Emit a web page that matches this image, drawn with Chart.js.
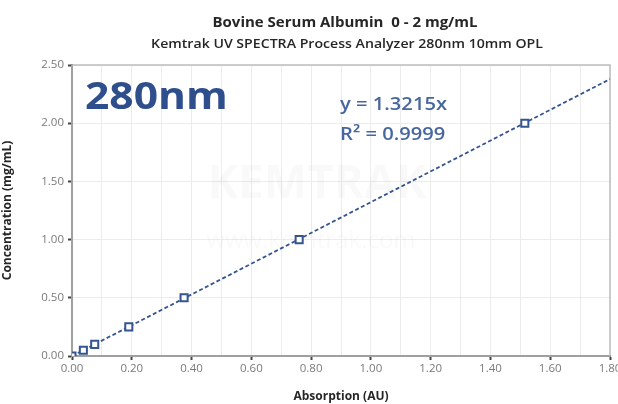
<!DOCTYPE html>
<html>
<head>
<meta charset="utf-8">
<script src="https://cdn.jsdelivr.net/npm/chart.js@4"></script>
<style>
  html, body { margin: 0; padding: 0; background: #fff; }
  #wrap { width: 618px; height: 404px; }
</style>
</head>
<body>
<div id="wrap"><canvas id="bsaChart" width="618" height="404"></canvas></div>
<script>
// measured standards: absorbance (AU) vs concentration (mg/mL)
const absorbance = [0.00, 0.038, 0.076, 0.19, 0.375, 0.76, 1.515];
const concentration = [0.00, 0.05, 0.10, 0.25, 0.50, 1.00, 2.00];

// trendline end points as drawn (y = 1.3215x)
const trendX = [0.00, 1.80];
const trendY = [0.00, 2.379];

const titleText = "Bovine Serum Albumin  0 - 2 mg/mL";
const subtitleText = "Kemtrak UV SPECTRA Process Analyzer 280nm 10mm OPL";
const equationText = "y = 1.3215x";
const rsqText = "R\u00B2 = 0.9999";
const bigLabel = "280nm";
const watermark = ["KEMTRAK", "www.kemtrak.com"];

const blue = "#34558f";
const FONT = "'Open Sans', sans-serif";

// text squeezed/stretched sideways, the picture is a bit wider than tall
function wideText(ctx, txt, x, y, sx) {
  ctx.save();
  ctx.translate(x, y);
  ctx.scale(sx, 1);
  ctx.fillText(txt, 0, 0);
  ctx.restore();
}

// titles, box, watermark and annotations
const decor = {
  id: "decor",
  beforeDatasetsDraw(chart) {
    const { ctx, chartArea: a } = chart;
    ctx.save();
    ctx.strokeStyle = "#bdbdbd";
    ctx.lineWidth = 1.5;
    ctx.strokeRect(a.left, a.top, a.right - a.left, a.bottom - a.top);
    // faint logo watermark
    ctx.textAlign = "center";
    ctx.fillStyle = "rgba(0,0,0,0.025)";
    ctx.font = "bold 46px " + FONT;
    ctx.fillText(watermark[0], 317, 198);
    ctx.font = "24px " + FONT;
    ctx.fillText(watermark[1], 311, 248);
    ctx.restore();
  },
  afterDraw(chart) {
    const { ctx, chartArea: a } = chart;
    const cx = (a.left + a.right) / 2;
    ctx.save();
    ctx.textAlign = "center";
    ctx.textBaseline = "alphabetic";
    ctx.fillStyle = "#262626";
    ctx.font = "bold 15px " + FONT;
    ctx.fillText(titleText, cx + 4, 27);
    ctx.font = "600 12.5px " + FONT;
    wideText(ctx, subtitleText, cx + 6, 48, 1.13);

    ctx.textAlign = "left";
    ctx.fillStyle = "#2f4f8c";
    ctx.font = "bold 37px " + FONT;
    wideText(ctx, bigLabel, 85, 109, 1.15);

    ctx.fillStyle = "#48679e";
    ctx.font = "600 18px " + FONT;
    wideText(ctx, equationText, 340, 110, 1.12);
    wideText(ctx, rsqText, 340, 140, 1.12);
    ctx.restore();
  }
};

new Chart(document.getElementById("bsaChart"), {
  type: "scatter",
  data: {
    datasets: [
      {
        label: "Trend",
        data: trendX.map((x, i) => ({ x: x, y: trendY[i] })),
        showLine: true,
        borderColor: blue,
        borderWidth: 1.8,
        borderDash: [4, 2.5],
        pointRadius: 0,
        order: 2
      },
      {
        label: "Standards",
        data: absorbance.map((x, i) => ({ x: x, y: concentration[i] })),
        showLine: false,
        pointStyle: "rect",
        pointRadius: 5,
        borderWidth: 2,
        borderColor: blue,
        backgroundColor: "#ffffff",
        order: 1
      }
    ]
  },
  options: {
    responsive: false,
    animation: false,
    layout: { padding: { top: 65, right: 8, left: 0, bottom: 0 } },
    plugins: {
      legend: { display: false },
      tooltip: { enabled: false }
    },
    scales: {
      x: {
        type: "linear",
        min: 0,
        max: 1.8,
        afterFit(s) { s.height = 48; s.paddingLeft = 0; s.paddingRight = 0; },
        ticks: {
          stepSize: 0.1,
          autoSkip: false,
          maxRotation: 0,
          padding: 2,
          color: "#7a7a7a",
          font: { family: FONT, size: 11.5 },
          callback: (v, i) => (i % 2 === 0 ? Number(v).toFixed(2) : "")
        },
        grid: {
          color: "#ececec",
          lineWidth: 1,
          tickLength: 4,
          tickWidth: 2,
          tickColor: (c) => (c.index % 2 === 0 ? "#444" : "rgba(0,0,0,0)")
        },
        border: { color: "#4a4a4a", width: 2 },
        title: {
          display: true,
          text: "Absorption (AU)",
          color: "#262626",
          font: { family: FONT, size: 12, weight: "bold" },
          padding: { top: 8, bottom: 0 }
        }
      },
      y: {
        type: "linear",
        min: 0,
        max: 2.5,
        afterFit(s) { s.width = 72; },
        ticks: {
          stepSize: 0.5,
          padding: 4,
          color: "#7a7a7a",
          font: { family: FONT, size: 11.5 },
          callback: (v) => Number(v).toFixed(2)
        },
        grid: {
          color: "#ececec",
          lineWidth: 1,
          tickLength: 4,
          tickWidth: 2,
          tickColor: "#444"
        },
        border: { color: "#4a4a4a", width: 2 },
        title: {
          display: true,
          text: "Concentration (mg/mL)",
          color: "#262626",
          font: { family: FONT, size: 12, weight: "bold" },
          padding: { top: 0, bottom: 4 }
        }
      }
    }
  },
  plugins: [decor]
});
</script>
</body>
</html>
